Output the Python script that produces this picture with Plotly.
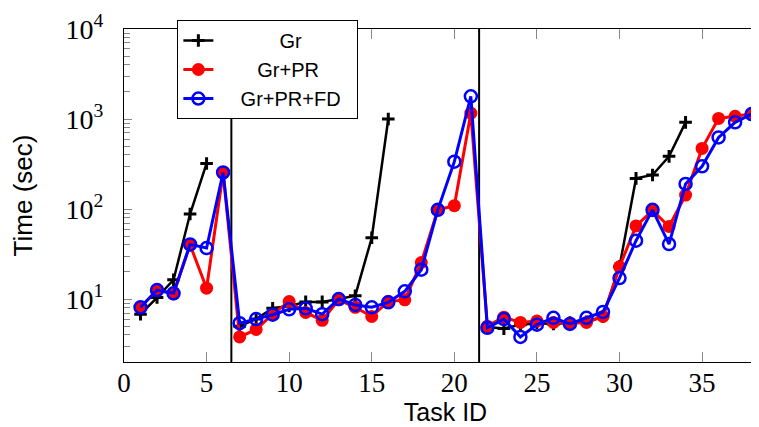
import plotly.graph_objects as go

# ---- data ----
task_ids = list(range(1, 39))

gr_y = [6.8, 10.4, 16.4, 88, 321, None,
        5.0, 6.0, 7.9, 8.4, 9.3, 9.3, 10.0, 10.9, 48, 1000,
        None, None, None, None, None,
        4.9, 4.7, 5.2, 5.4, 5.3, 5.5, 5.6, 6.4, 23, 219, 239, 385, 918,
        None, None, None, None]

gr_pr_y = [8.1, 12.6, 11.4, 40, 13.2, 251,
           3.8, 4.6, 6.8, 9.4, 7.1, 5.8, 9.8, 8.1, 6.4, 9.4, 9.8, 25.5, 98, 109, 1160,
           5.0, 6.3, 5.5, 5.7, 5.5, 5.4, 5.5, 6.4, 22.8, 65, 96, 64, 143, 472, 1016, 1072, 1137]

gr_pr_fd_y = [8.1, 12.6, 11.6, 40.5, 36.9, 255,
              5.4, 6.0, 6.7, 7.7, 7.9, 6.8, 10.0, 8.6, 8.1, 9.2, 12.2, 21.2, 98, 336, 1786,
              4.8, 6.0, 3.8, 5.2, 6.2, 5.3, 6.2, 7.2, 17.1, 44.5, 98, 40.8, 190, 298, 625, 918, 1137]

separators = [6.5, 21.5]

x_ticks = [0, 5, 10, 15, 20, 25, 30, 35]
y_ticks = [10, 100, 1000, 10000]
y_ticktext = ["10<sup>1</sup>", "10<sup>2</sup>", "10<sup>3</sup>", "10<sup>4</sup>"]

series_names = ["Gr", "Gr+PR", "Gr+PR+FD"]

NB = "\u00a0"
fig = go.Figure()

fig.add_trace(go.Scatter(
    x=task_ids, y=gr_y, mode="lines+markers", name=NB * 11 + series_names[0],
    connectgaps=False,
    line=dict(color="black", width=2.5),
    marker=dict(symbol="cross-thin", size=9, color="black",
                line=dict(color="black", width=3)),
))
fig.add_trace(go.Scatter(
    x=task_ids, y=gr_pr_y, mode="lines+markers", name=NB * 7 + series_names[1],
    line=dict(color="red", width=3),
    marker=dict(symbol="circle", size=13, color="red"),
))
fig.add_trace(go.Scatter(
    x=task_ids, y=gr_pr_fd_y, mode="lines+markers", name=NB * 4 + series_names[2] + NB * 2,
    line=dict(color="blue", width=3),
    marker=dict(symbol="circle-open", size=12, color="blue",
                line=dict(color="blue", width=2.5)),
))

for s in separators:
    fig.add_shape(type="line", xref="x", yref="paper", x0=s, x1=s, y0=0, y1=1,
                  line=dict(color="black", width=2), layer="below")

minor_vals = [k * 10 ** d for d in range(0, 4) for k in range(2, 10)]

fig.update_layout(
    width=759, height=427,
    margin=dict(l=116, r=0, t=21, b=73),
    paper_bgcolor="white", plot_bgcolor="white",
    showlegend=True,
    legend=dict(x=0.083, y=1.027, xanchor="left", yanchor="top",
                bgcolor="white", bordercolor="black", borderwidth=1,
                font=dict(family="Liberation Sans", size=20, color="black"),
                tracegroupgap=0),
    xaxis=dict(range=[0, 38.93], tickmode="array", tickvals=x_ticks,
               ticks="inside", ticklen=10, tickcolor="#888", tickwidth=1,
               ticklabelstandoff=-4,
               showline=True, linecolor="black", linewidth=1.3, mirror="ticks",
               showgrid=False, zeroline=False,
               tickfont=dict(family="Liberation Serif", size=27, color="black"),
               title=dict(text="Task ID", standoff=0,
                          font=dict(family="Liberation Sans", size=25, color="black"))),
    yaxis=dict(type="log", range=[0.30103, 4], tickmode="array", tickvals=y_ticks,
               ticktext=y_ticktext, ticklabelstandoff=14,
               ticks="inside", ticklen=8, tickcolor="#888", tickwidth=1,
               minor=dict(ticks="inside", ticklen=6, tickcolor="#888", tickwidth=1,
                          tickmode="array", tickvals=minor_vals, showgrid=False),
               showline=True, linecolor="black", linewidth=1.3, mirror="ticks",
               showgrid=False, zeroline=False,
               tickfont=dict(family="Liberation Serif", size=28, color="black"),
               title=dict(text="Time (sec)", standoff=26,
                          font=dict(family="Liberation Sans", size=26, color="black"))),
)

fig.write_html("out.html")
